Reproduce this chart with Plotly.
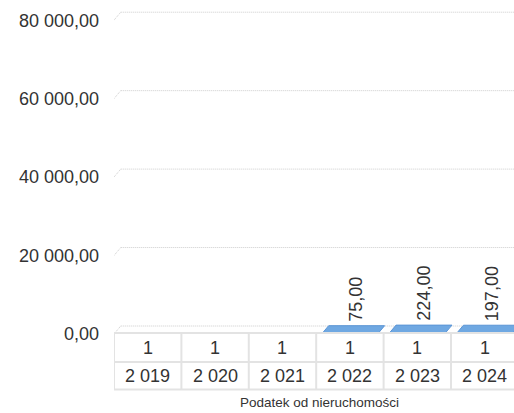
import plotly.graph_objects as go

# data
years = ["2 019", "2 020", "2 021", "2 022", "2 023", "2 024"]
counts = ["1", "1", "1", "1", "1", "1"]
values = [None, None, None, 75, 224, 197]
y_ticks = [0, 20000, 40000, 60000, 80000]


def fmt_pl(v):
    s = f"{v:,.2f}"
    return s.replace(",", " ").replace(".", ",")


DEPTH = 2040      # 3D depth in y units (~8px)
SHIFT = 0.1       # 3D depth in category units
HALF = 0.415      # half bar width
TXT = "#333333"
GRID = "#cccccc"
LINE = "#e3e3e3"
FONT = "Liberation Sans, Arial, sans-serif"

fig = go.Figure()

# bars drawn as flat 3D parallelograms (top face)
for i, v in enumerate(values):
    if v is None:
        continue
    xs = [i - HALF, i + HALF, i + HALF + SHIFT, i - HALF + SHIFT, i - HALF]
    ys = [v, v, v + DEPTH, v + DEPTH, v]
    fig.add_trace(go.Scatter(
        x=xs, y=ys, mode="lines", fill="toself",
        fillcolor="#6fa8e2", line=dict(color="#5b95d6", width=1),
        hoverinfo="skip", showlegend=False
    ))
    fig.add_annotation(
        x=i + SHIFT, y=v + DEPTH, xref="x", yref="y",
        text=fmt_pl(v), textangle=-90, showarrow=False,
        xanchor="center", yanchor="bottom", yshift=2,
        font=dict(size=18, color=TXT, family=FONT)
    )

# back wall gridlines with perspective diagonal
for t in y_ticks:
    fig.add_shape(type="line", xref="x", yref="y",
                  x0=-0.5 + SHIFT, x1=5.6, y0=t + DEPTH, y1=t + DEPTH,
                  line=dict(color=GRID, width=1, dash="1px,1px"), layer="below")
    fig.add_shape(type="line", xref="x", yref="y",
                  x0=-0.5, x1=-0.5 + SHIFT, y0=t, y1=t + DEPTH,
                  line=dict(color=GRID, width=1, dash="1px,1px"), layer="below")

# category table below the plot
row_top, row_mid, row_bot = 0.003, -0.0864, -0.171
for yy in [row_top, row_mid, row_bot]:
    fig.add_shape(type="line", xref="x", yref="paper",
                  x0=-0.5, x1=5.6, y0=yy, y1=yy,
                  line=dict(color=LINE, width=2))
for i in range(len(years) + 1):
    fig.add_shape(type="line", xref="x", yref="paper",
                  x0=i - 0.5, x1=i - 0.5, y0=row_top, y1=row_bot,
                  line=dict(color=LINE, width=2))
for i, (c, yr) in enumerate(zip(counts, years)):
    fig.add_annotation(x=i, y=(row_top + row_mid) / 2, xref="x", yref="paper",
                       text=c, showarrow=False, yanchor="middle",
                       font=dict(size=18, color=TXT, family=FONT))
    fig.add_annotation(x=i, y=(row_mid + row_bot) / 2, xref="x", yref="paper",
                       text=yr, showarrow=False, yanchor="middle",
                       font=dict(size=18, color=TXT, family=FONT))

fig.add_annotation(x=0.5125, y=-0.21, xref="paper", yref="paper",
                   text="Podatek od nieruchomości", showarrow=False,
                   yanchor="middle",
                   font=dict(size=13.5, color=TXT, family=FONT))

fig.update_layout(
    width=514, height=413,
    margin=dict(l=114, r=0, t=10, b=79),
    plot_bgcolor="white", paper_bgcolor="white",
    font=dict(family=FONT, color=TXT),
    xaxis=dict(range=[-0.5, 5.435], showticklabels=False, showgrid=False,
               zeroline=False, showline=False, fixedrange=True),
    yaxis=dict(range=[0, 82600], tickvals=y_ticks,
               ticktext=[fmt_pl(t) for t in y_ticks],
               showgrid=False, zeroline=False, showline=False,
               ticklabelstandoff=14, tickfont=dict(size=18, color=TXT)),
)

# drop the default 8px page margin so the figure fills the window
fig.write_html("out.html",
               config={"displayModeBar": False},
               post_script="document.body.style.margin='0';"
                           "document.body.style.overflow='hidden';")
